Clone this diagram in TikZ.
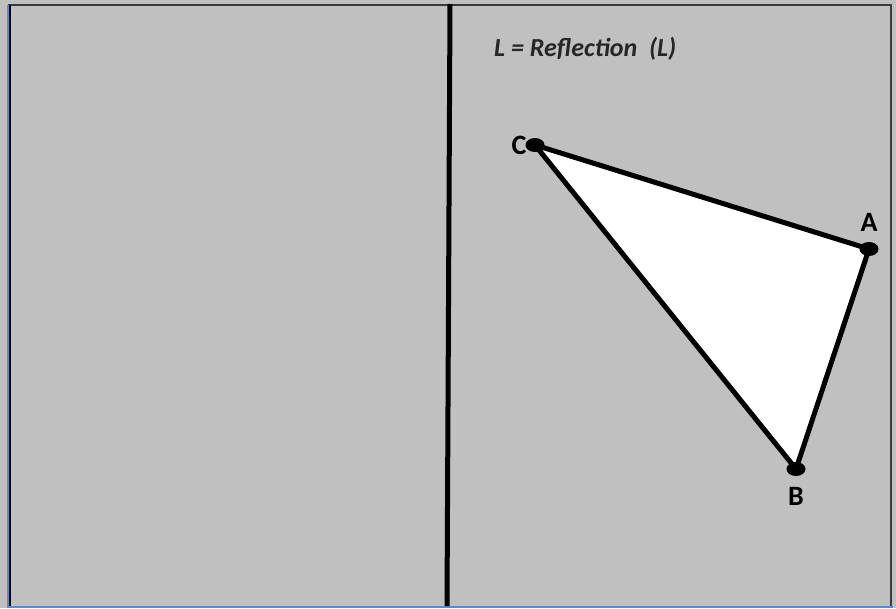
\documentclass[tikz,border=0pt]{standalone}
\usepackage{fontspec}
\setmainfont{Carlito}
\definecolor{bg}{HTML}{C0C0C0}
\definecolor{frameblue}{HTML}{5B8BD0}
\definecolor{framedark}{HTML}{3A3A3A}
\tikzset{
  vdot/.style={ellipse, fill=black, inner sep=0pt, minimum width=19pt, minimum height=14pt},
  vlabel/.style={font=\bfseries\fontsize{28}{28}\selectfont, inner sep=0pt},
  edge/.style={line width=5pt, line join=round}
}
\usetikzlibrary{shapes.geometric}
\begin{document}
\begin{tikzpicture}[x=1pt,y=-1pt]
\useasboundingbox (0,0) rectangle (896,608);
\fill[bg] (0,0) rectangle (896,608);
% frame
\draw[framedark, line width=2.5pt] (8,5) -- (892,5);
\draw[framedark, line width=2pt] (891,5) -- (891,606);
\draw[black, line width=1.5pt] (10,5) -- (10,606);
\draw[frameblue, line width=2pt] (7.5,5) -- (7.5,608);
\draw[frameblue, line width=2pt] (7,606.5) -- (893,606.5);
% mirror line
\coordinate (Ltop) at (450,4);
\coordinate (Lbot) at (447,606);
\draw[black, line width=5pt] (Ltop) -- (Lbot);
% title
\node[font=\bfseries\itshape\fontsize{26}{26}\selectfont, anchor=base west, inner sep=0pt, text=black!85] (title) at (494,56) {L = Reflection\ \ (L)};
% triangle
\coordinate (Cp) at (535,145);
\coordinate (Ap) at (869,249);
\coordinate (Bp) at (796,469);
\fill[white] (Cp) -- (Ap) -- (Bp) -- cycle;
\draw[edge] (Cp) -- (Ap) -- (Bp) -- cycle;
\node[vdot] (C) at (Cp) {};
\node[vdot] (A) at (Ap) {};
\node[vdot] (B) at (Bp) {};
\node[vlabel] (Clab) at (519,145) {C};
\node[vlabel] (Alab) at (869,222) {A};
\node[vlabel] (Blab) at (796,496) {B};
\end{tikzpicture}
\end{document}
